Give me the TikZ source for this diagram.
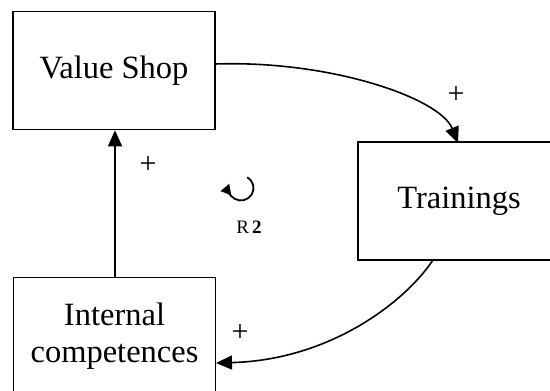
\documentclass[tikz,border=0pt]{standalone}
\usepackage{fontspec}
\setmainfont{Liberation Serif}
\usetikzlibrary{arrows.meta}
\begin{document}
\begin{tikzpicture}[x=1pt,y=-1pt,
  varbox/.style={draw, line width=1.6pt, minimum width=202pt, minimum height=118pt,
    inner sep=0pt, align=center, font=\fontsize{32.5}{37}\selectfont},
  link/.style={line width=1.6pt, -{Triangle[length=16pt,width=14pt]}},
  polarity/.style={font=\fontsize{30}{30}\selectfont, inner sep=0pt},
  loopmark/.style={line width=1.8pt, -{Triangle[length=10pt,width=11pt]}}]
\useasboundingbox (0,0) rectangle (550,391);
\clip (0,0) rectangle (550,391);

% model variables
\node[varbox] (shop) at (114,70.5) {Value Shop};
\node[varbox] (train) at (459,201) {Trainings};
\node[varbox] (comp) at (114.5,336.5) {Internal\\competences};

% causal links
\coordinate (shopE) at (215,64);
\coordinate (trainN) at (458,143);
\coordinate (trainS) at (433,260);
\coordinate (compE) at (216,363);
\draw[link] (shopE) .. controls (330,60) and (440,98) .. (trainN);
\draw[link] (trainS) .. controls (405,302) and (330,360) .. (compE);
\draw[link] (comp.north -| 115,0) -- (shop.south -| 115,0);

% polarity signs
\node[polarity] (p1) at (456,95) {+};
\node[polarity] (p2) at (240,333) {+};
\node[polarity] (p3) at (148,165) {+};

% reinforcing loop marker
\coordinate (loopc) at (241,188);
\draw[loopmark] ([shift={(-60:12.5)}]loopc) arc[start angle=-60, end angle=200, radius=12.5];
\node[font=\fontsize{19}{19}\selectfont, anchor=base] (loopname) at (249,233) {R\,\textbf{2}};
\end{tikzpicture}
\end{document}
